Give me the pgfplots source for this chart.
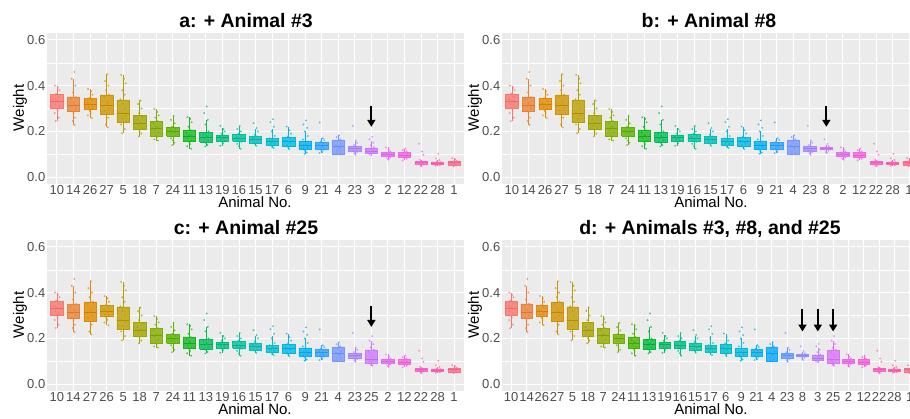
\documentclass[border=0pt]{standalone}
\usepackage{pgfplots}
\pgfplotsset{compat=1.18}
\usetikzlibrary{arrows.meta}
\usepackage{fontspec}
\setmainfont{Liberation Sans}
\definecolor{panelbg}{HTML}{EBEBEB}
\definecolor{ticktext}{HTML}{4D4D4D}
% 25-hue palette
\definecolor{pa1}{RGB}{248,118,109}\definecolor{pa2}{RGB}{234,131,49}\definecolor{pa3}{RGB}{223,139,0}
\definecolor{pa4}{RGB}{207,149,0}\definecolor{pa5}{RGB}{187,158,0}\definecolor{pa6}{RGB}{163,165,0}
\definecolor{pa7}{RGB}{132,173,0}\definecolor{pa8}{RGB}{90,179,0}\definecolor{pa9}{RGB}{20,184,30}
\definecolor{pa10}{RGB}{0,189,86}\definecolor{pa11}{RGB}{0,191,125}\definecolor{pa12}{RGB}{0,193,156}
\definecolor{pa13}{RGB}{0,192,183}\definecolor{pa14}{RGB}{0,189,207}\definecolor{pa15}{RGB}{0,184,229}
\definecolor{pa16}{RGB}{0,176,246}\definecolor{pa17}{RGB}{45,163,255}\definecolor{pa18}{RGB}{118,151,255}
\definecolor{pa19}{RGB}{170,136,255}\definecolor{pa20}{RGB}{206,120,254}\definecolor{pa21}{RGB}{231,107,243}
\definecolor{pa22}{RGB}{247,99,224}\definecolor{pa23}{RGB}{255,97,201}\definecolor{pa24}{RGB}{255,101,173}
\definecolor{pa25}{RGB}{255,108,144}
% 27-hue palette
\definecolor{pd1}{RGB}{248,118,109}\definecolor{pd2}{RGB}{236,128,58}\definecolor{pd3}{RGB}{225,137,10}
\definecolor{pd4}{RGB}{211,146,0}\definecolor{pd5}{RGB}{193,155,0}\definecolor{pd6}{RGB}{172,162,0}
\definecolor{pd7}{RGB}{147,170,0}\definecolor{pd8}{RGB}{113,176,0}\definecolor{pd9}{RGB}{64,181,0}
\definecolor{pd10}{RGB}{0,186,56}\definecolor{pd11}{RGB}{0,190,98}\definecolor{pd12}{RGB}{0,191,131}
\definecolor{pd13}{RGB}{0,193,159}\definecolor{pd14}{RGB}{0,192,184}\definecolor{pd15}{RGB}{0,189,206}
\definecolor{pd16}{RGB}{0,185,227}\definecolor{pd17}{RGB}{0,178,243}\definecolor{pd18}{RGB}{11,168,255}
\definecolor{pd19}{RGB}{97,156,255}\definecolor{pd20}{RGB}{153,142,255}\definecolor{pd21}{RGB}{190,128,255}
\definecolor{pd22}{RGB}{219,114,251}\definecolor{pd23}{RGB}{237,104,236}\definecolor{pd24}{RGB}{250,98,218}
\definecolor{pd25}{RGB}{255,97,195}\definecolor{pd26}{RGB}{255,102,169}\definecolor{pd27}{RGB}{254,109,141}

% animal data: id, lower whisker, Q1, median, Q3, upper whisker, jittered points (offset,weight)
\newcommand\defanimal[7]{%
  \expandafter\def\csname bx#1\endcsname{{#2}{#3}{#4}{#5}{#6}}%
  \expandafter\def\csname pts#1\endcsname{#7}}
\defanimal{10}{0.245}{0.299}{0.33}{0.363}{0.40}{(-0.12,0.40)(0.06,0.39)(0.15,0.38)(-0.05,0.365)(0.1,0.35)(-0.16,0.34)(0,0.335)(0.09,0.33)(-0.09,0.32)(0.13,0.31)(-0.02,0.30)(0.04,0.29)(-0.13,0.28)(0.11,0.26)(-0.07,0.245)}
\defanimal{14}{0.228}{0.287}{0.315}{0.351}{0.43}{(0.05,0.46)(-0.1,0.43)(0.12,0.40)(-0.03,0.37)(0.16,0.35)(-0.14,0.34)(0.02,0.325)(0.08,0.315)(-0.07,0.31)(0.14,0.30)(-0.11,0.29)(0,0.28)(0.1,0.26)(-0.04,0.245)(0.07,0.228)}
\defanimal{26}{0.258}{0.297}{0.32}{0.345}{0.385}{(-0.12,0.385)(0.06,0.375)(0.15,0.36)(-0.05,0.345)(0.1,0.335)(-0.16,0.325)(0,0.32)(0.09,0.315)(-0.09,0.305)(0.13,0.3)(-0.02,0.29)(0.04,0.28)(-0.13,0.27)(0.11,0.258)}
\defanimal{27}{0.217}{0.275}{0.315}{0.36}{0.45}{(0.05,0.45)(-0.1,0.42)(0.12,0.40)(-0.03,0.38)(0.16,0.36)(-0.14,0.35)(0.02,0.33)(0.08,0.32)(-0.07,0.315)(0.14,0.3)(-0.11,0.29)(0,0.275)(0.1,0.26)(-0.04,0.23)(0.07,0.217)}
\defanimal{5}{0.192}{0.239}{0.28}{0.338}{0.447}{(-0.12,0.447)(0.06,0.43)(0.15,0.41)(-0.05,0.38)(0.1,0.36)(-0.16,0.34)(0,0.32)(0.09,0.3)(-0.09,0.28)(0.13,0.27)(-0.02,0.255)(0.04,0.24)(-0.13,0.23)(0.11,0.21)(-0.07,0.192)}
\defanimal{18}{0.178}{0.21}{0.235}{0.27}{0.335}{(0.05,0.335)(-0.1,0.32)(0.12,0.30)(-0.03,0.28)(0.16,0.265)(-0.14,0.25)(0.02,0.24)(0.08,0.235)(-0.07,0.225)(0.14,0.215)(-0.11,0.21)(0,0.2)(0.1,0.19)(-0.04,0.178)}
\defanimal{7}{0.16}{0.18}{0.215}{0.243}{0.298}{(-0.12,0.298)(0.06,0.285)(0.15,0.27)(-0.05,0.26)(0.1,0.245)(-0.16,0.235)(0,0.22)(0.09,0.215)(-0.09,0.205)(0.13,0.195)(-0.02,0.185)(0.04,0.175)(-0.13,0.165)(0.11,0.16)}
\defanimal{24}{0.14}{0.178}{0.2}{0.218}{0.268}{(0.05,0.268)(-0.1,0.25)(0.12,0.235)(-0.03,0.22)(0.16,0.21)(-0.14,0.205)(0.02,0.2)(0.08,0.195)(-0.07,0.19)(0.14,0.18)(-0.11,0.17)(0,0.16)(0.1,0.15)(-0.04,0.14)}
\defanimal{11}{0.124}{0.156}{0.18}{0.207}{0.262}{(-0.12,0.262)(0.06,0.255)(0.15,0.24)(-0.05,0.22)(0.1,0.205)(-0.16,0.195)(0,0.185)(0.09,0.18)(-0.09,0.17)(0.13,0.16)(-0.02,0.155)(0.04,0.145)(-0.13,0.135)(0.11,0.124)}
\defanimal{13}{0.134}{0.153}{0.175}{0.197}{0.25}{(0.05,0.309)(-0.1,0.28)(0.12,0.25)(-0.03,0.23)(0.16,0.2)(-0.14,0.19)(0.02,0.18)(0.08,0.175)(-0.07,0.17)(0.14,0.16)(-0.11,0.155)(0,0.15)(0.1,0.14)(-0.04,0.134)}
\defanimal{19}{0.137}{0.159}{0.172}{0.183}{0.215}{(-0.12,0.224)(0.06,0.21)(0.15,0.2)(-0.05,0.19)(0.1,0.182)(-0.16,0.178)(0,0.173)(0.09,0.17)(-0.09,0.165)(0.13,0.16)(-0.02,0.155)(0.04,0.148)(-0.13,0.137)}
\defanimal{16}{0.124}{0.156}{0.17}{0.188}{0.224}{(0.05,0.224)(-0.1,0.21)(0.12,0.2)(-0.03,0.19)(0.16,0.18)(-0.14,0.175)(0.02,0.17)(0.08,0.165)(-0.07,0.16)(0.14,0.155)(-0.11,0.145)(0,0.135)(0.1,0.124)}
\defanimal{15}{0.137}{0.149}{0.165}{0.178}{0.21}{(-0.12,0.236)(0.06,0.215)(0.15,0.2)(-0.05,0.185)(0.1,0.178)(-0.16,0.172)(0,0.166)(0.09,0.162)(-0.09,0.155)(0.13,0.15)(-0.02,0.145)(0.04,0.137)}
\defanimal{17}{0.127}{0.141}{0.155}{0.17}{0.21}{(0.05,0.253)(-0.1,0.24)(0.12,0.22)(-0.03,0.2)(0.16,0.18)(-0.14,0.17)(0.02,0.162)(0.08,0.155)(-0.07,0.15)(0.14,0.145)(-0.11,0.14)(0,0.132)(0.1,0.127)}
\defanimal{6}{0.122}{0.134}{0.155}{0.175}{0.221}{(-0.12,0.221)(0.06,0.205)(0.15,0.19)(-0.05,0.178)(0.1,0.17)(-0.16,0.16)(0,0.155)(0.09,0.15)(-0.09,0.14)(0.13,0.135)(-0.02,0.128)(0.04,0.122)}
\defanimal{9}{0.102}{0.12}{0.14}{0.159}{0.2}{(0.05,0.248)(-0.1,0.23)(0.12,0.215)(-0.03,0.2)(0.16,0.18)(-0.14,0.165)(0.02,0.155)(0.08,0.145)(-0.07,0.14)(0.14,0.13)(-0.11,0.125)(0,0.115)(0.1,0.108)(-0.04,0.102)}
\defanimal{21}{0.105}{0.12}{0.138}{0.153}{0.17}{(-0.12,0.239)(0.06,0.17)(0.15,0.162)(-0.05,0.155)(0.1,0.148)(-0.16,0.14)(0,0.135)(0.09,0.13)(-0.09,0.125)(0.13,0.12)(-0.02,0.115)(0.04,0.11)(-0.13,0.105)}
\defanimal{4}{0.10}{0.102}{0.135}{0.163}{0.183}{(0.05,0.183)(-0.1,0.175)(0.12,0.165)(-0.03,0.155)(0.16,0.145)(-0.14,0.138)(0.02,0.13)(0.08,0.125)(-0.07,0.115)(0.14,0.108)(-0.11,0.103)(0,0.1)}
\defanimal{23}{0.098}{0.111}{0.125}{0.134}{0.16}{(-0.12,0.224)(0.06,0.16)(0.15,0.15)(-0.05,0.14)(0.1,0.133)(-0.16,0.128)(0,0.125)(0.09,0.12)(-0.09,0.115)(0.13,0.11)(-0.02,0.105)(0.04,0.098)}
\defanimal{3}{0.095}{0.103}{0.115}{0.128}{0.16}{(0.05,0.176)(-0.1,0.165)(0.12,0.15)(-0.03,0.14)(0.16,0.13)(-0.14,0.125)(0.02,0.118)(0.08,0.115)(-0.07,0.11)(0.14,0.105)(-0.11,0.1)(0,0.095)}
\defanimal{8}{0.105}{0.12}{0.125}{0.13}{0.14}{(-0.12,0.165)(0.06,0.145)(0.15,0.135)(-0.05,0.13)(0.1,0.128)(-0.16,0.126)(0,0.125)(0.09,0.123)(-0.09,0.12)(0.13,0.115)(-0.02,0.11)(0.04,0.105)}
\defanimal{25}{0.08}{0.09}{0.11}{0.15}{0.19}{(0.05,0.21)(-0.1,0.19)(0.12,0.175)(-0.03,0.16)(0.16,0.15)(-0.14,0.14)(0.02,0.13)(0.08,0.12)(-0.07,0.11)(0.14,0.105)(-0.11,0.1)(0,0.095)(0.1,0.09)(-0.04,0.085)(0.07,0.08)}
\defanimal{2}{0.076}{0.09}{0.098}{0.108}{0.13}{(-0.12,0.13)(0.06,0.12)(0.15,0.112)(-0.05,0.106)(0.1,0.102)(-0.16,0.1)(0,0.097)(0.09,0.094)(-0.09,0.09)(0.13,0.086)(-0.02,0.08)(0.04,0.076)}
\defanimal{12}{0.073}{0.087}{0.097}{0.108}{0.125}{(0.05,0.125)(-0.1,0.118)(0.12,0.112)(-0.03,0.106)(0.16,0.1)(-0.14,0.097)(0.02,0.094)(0.08,0.09)(-0.07,0.086)(0.14,0.08)(-0.11,0.073)}
\defanimal{22}{0.047}{0.057}{0.063}{0.068}{0.075}{(-0.12,0.146)(0.06,0.112)(0.15,0.098)(-0.05,0.075)(0.1,0.068)(-0.16,0.065)(0,0.063)(0.09,0.061)(-0.09,0.058)(0.13,0.055)(-0.02,0.05)(0.04,0.047)}
\defanimal{28}{0.05}{0.055}{0.062}{0.067}{0.077}{(0.05,0.102)(-0.1,0.082)(0.12,0.075)(-0.03,0.068)(0.16,0.065)(-0.14,0.062)(0.02,0.06)(0.08,0.058)(-0.07,0.055)(0.14,0.052)(-0.11,0.05)}
\defanimal{1}{0.047}{0.054}{0.063}{0.07}{0.083}{(-0.12,0.083)(0.06,0.078)(0.15,0.072)(-0.05,0.068)(0.1,0.065)(-0.16,0.063)(0,0.061)(0.09,0.058)(-0.09,0.055)(0.13,0.052)(-0.02,0.047)}

\pgfplotsset{
  panel/.style={
    scale only axis, width=417pt, height=151pt, anchor=south west,
    xmin=0.4, ymin=-0.03, ymax=0.63,
    ytick={0,0.2,0.4,0.6}, yticklabels={0.0,0.2,0.4,0.6},
    minor ytick={0.1,0.3,0.5},
    grid=both,
    major grid style={white, line width=0.9pt},
    minor grid style={white, line width=0.45pt},
    axis background/.style={fill=panelbg},
    axis line style={draw=none},
    major tick length=0pt, minor tick length=0pt,
    tick label style={font=\fontsize{13}{13}\selectfont, text=ticktext},
    yticklabel style={inner xsep=1.5pt},
    xticklabel style={inner ysep=1.5pt},
  },
}
\tikzset{arr/.style={line width=2pt, -{Triangle[length=7pt,width=8pt]}}}
% box at position #1 in colour #2: lower whisker #3, Q1 #4, median #5, Q3 #6, upper whisker #7
\newcommand\mybox[7]{%
  \addplot[draw=#2, line width=0.5pt, x filter/.expression={x+#1}] coordinates {(0,#3)(0,#4)};
  \addplot[draw=#2, line width=0.5pt, x filter/.expression={x+#1}] coordinates {(0,#6)(0,#7)};
  \addplot[draw=#2, fill=#2, fill opacity=0.8, line width=0.5pt, x filter/.expression={x+#1}]
     coordinates {(-0.375,#4)(0.375,#4)(0.375,#6)(-0.375,#6)(-0.375,#4)};
  \addplot[draw=#2!92!black, line width=0.6pt, x filter/.expression={x+#1}] coordinates {(-0.375,#5)(0.375,#5)};
}
\newcommand\animal[3]{% position, animal, colour
  \edef\doit{\noexpand\mybox{#1}{#3}\csname bx#2\endcsname
    \noexpand\addplot[only marks, mark=*, mark size=0.85pt, color=#3, opacity=0.7,
      mark options={line width=0.1pt}, x filter/.expression={x+#1}] coordinates {\csname pts#2\endcsname};}%
  \doit}
\newcounter{pos}
\newcommand\drawpanel[2]{%
  \setcounter{pos}{0}%
  \pgfplotsforeachungrouped \id in {#2}{%
    \stepcounter{pos}%
    \edef\p{\arabic{pos}}%
    \animal{\p}{\id}{#1\p}%
  }}
\newcommand\titlefont{\fontsize{19.5}{19.5}\selectfont\bfseries}
\newcommand\labfont{\fontsize{15}{15}\selectfont}

\begin{document}
\begin{tikzpicture}[x=1pt,y=1pt]
\path[use as bounding box] (0,0) rectangle (910,419);
\clip (0,0) rectangle (910,419);
% panel a
\begin{axis}[panel, at={(47pt,235pt)}, xmax=25.6, xtick={1,...,25},
  xticklabels={10,14,26,27,5,18,7,24,11,13,19,16,15,17,6,9,21,4,23,3,2,12,22,28,1}]
\drawpanel{pa}{10,14,26,27,5,18,7,24,11,13,19,16,15,17,6,9,21,4,23,3,2,12,22,28,1}
\draw[arr] (axis cs:20,0.31) -- (axis cs:20,0.22);
\end{axis}
% panel b
\begin{axis}[panel, at={(502pt,235pt)}, xmax=25.6, xtick={1,...,25},
  xticklabels={10,14,26,27,5,18,7,24,11,13,19,16,15,17,6,9,21,4,23,8,2,12,22,28,1}]
\drawpanel{pa}{10,14,26,27,5,18,7,24,11,13,19,16,15,17,6,9,21,4,23,8,2,12,22,28,1}
\draw[arr] (axis cs:20,0.31) -- (axis cs:20,0.22);
\end{axis}
% panel c
\begin{axis}[panel, at={(47pt,28pt)}, xmax=25.6, xtick={1,...,25},
  xticklabels={10,14,27,26,5,18,7,24,11,13,19,16,15,17,6,9,21,4,23,25,2,12,22,28,1}]
\drawpanel{pa}{10,14,27,26,5,18,7,24,11,13,19,16,15,17,6,9,21,4,23,25,2,12,22,28,1}
\draw[arr] (axis cs:20,0.34) -- (axis cs:20,0.25);
\end{axis}
% panel d
\begin{axis}[panel, at={(502pt,28pt)}, xmax=27.6, xtick={1,...,27},
  xticklabels={10,14,26,27,5,18,7,24,11,13,19,16,15,17,6,9,21,4,23,8,3,25,2,12,22,28,1}]
\drawpanel{pd}{10,14,26,27,5,18,7,24,11,13,19,16,15,17,6,9,21,4,23,8,3,25,2,12,22,28,1}
\draw[arr] (axis cs:20,0.33) -- (axis cs:20,0.23);
\draw[arr] (axis cs:21,0.33) -- (axis cs:21,0.23);
\draw[arr] (axis cs:22,0.33) -- (axis cs:22,0.23);
\end{axis}
% titles and axis labels
\node[font=\titlefont, anchor=base] at (246,391) {a: + Animal \#3};
\node[font=\titlefont, anchor=base] at (709,391) {b: + Animal \#8};
\node[font=\titlefont, anchor=base] at (246,184) {c: + Animal \#25};
\node[font=\titlefont, anchor=base] at (710,184) {d: + Animals \#3, \#8, and \#25};
\node[font=\labfont, anchor=base] at (255,211) {Animal No.};
\node[font=\labfont, anchor=base] at (711,211) {Animal No.};
\node[font=\labfont, anchor=base] at (255,4) {Animal No.};
\node[font=\labfont, anchor=base] at (711,4) {Animal No.};
\node[font=\labfont, rotate=90] at (20,311) {Weight};
\node[font=\labfont, rotate=90] at (475,311) {Weight};
\node[font=\labfont, rotate=90] at (20,104) {Weight};
\node[font=\labfont, rotate=90] at (475,104) {Weight};
\end{tikzpicture}
\end{document}
